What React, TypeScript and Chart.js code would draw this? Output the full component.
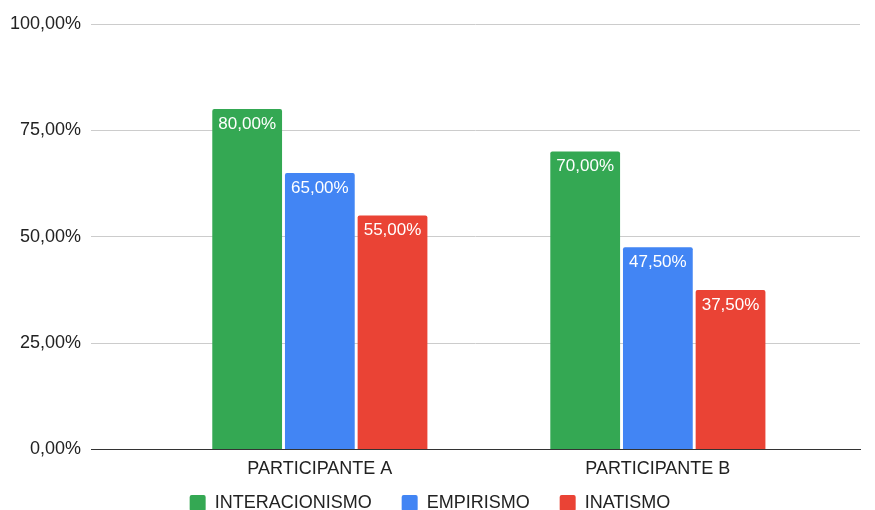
import React, { useEffect, useRef } from "react";
import { Chart, registerables } from "chart.js";

Chart.register(...registerables);

const categories = ["PARTICIPANTE A", "PARTICIPANTE B"];
const seriesNames = ["INTERACIONISMO", "EMPIRISMO", "INATISMO"];
const interacionismo = [80, 70];
const empirismo = [65, 47.5];
const inatismo = [55, 37.5];
const yTicks = [0, 25, 50, 75, 100];
const colors = ["#34a853", "#4285f4", "#ea4335"];

const fmt = (v: number) => v.toFixed(2).replace(".", ",") + "%";

const FONT = "'Liberation Sans', Arial, sans-serif";
const LEGEND_SHIFT = 17;

const labelPlugin = {
  id: "barLabels",
  afterDatasetsDraw(chart: any) {
    const ctx = chart.ctx;
    ctx.save();
    ctx.font = `17px ${FONT}`;
    ctx.fillStyle = "#ffffff";
    ctx.textAlign = "center";
    ctx.textBaseline = "middle";
    chart.data.datasets.forEach((ds: any, di: number) => {
      const meta = chart.getDatasetMeta(di);
      meta.data.forEach((el: any, i: number) => {
        const v = ds.data[i].y;
        ctx.fillText(fmt(v), el.x, el.y + 15);
      });
    });
    ctx.restore();
  },
};

const legendShiftPlugin = {
  id: "legendShift",
  afterLayout(chart: any) {
    const lg = chart.legend;
    if (lg) {
      lg.top -= LEGEND_SHIFT;
      lg.bottom -= LEGEND_SHIFT;
    }
  },
};

export default function App() {
  const ref = useRef<HTMLCanvasElement>(null);
  useEffect(() => {
    const series = [interacionismo, empirismo, inatismo];
    const chart = new Chart(ref.current!, {
      type: "bar",
      data: {
        datasets: series.map((vals, si) => ({
          label: seriesNames[si],
          data: vals.map((v, i) => ({ x: i, y: v })),
          backgroundColor: colors[si],
          borderRadius: { topLeft: 2, topRight: 2 },
          borderSkipped: "bottom",
          categoryPercentage: 0.645,
          barPercentage: 0.96,
        })),
      },
      options: {
        animation: false,
        responsive: false,
        layout: { padding: { top: 24, right: 15, left: 0, bottom: -29 } },
        scales: {
          x: {
            type: "linear",
            offset: false,
            min: -0.677,
            max: 1.598,
            afterBuildTicks: (axis: any) => {
              axis.ticks = categories.map((_, i) => ({ value: i }));
            },
            ticks: {
              callback: (v: any) => categories[v] ?? "",
              color: "#222",
              font: { family: FONT, size: 18 },
              padding: 1,
              maxRotation: 0,
              autoSkip: false,
            },
            grid: { display: false },
            border: { display: true, color: "#333", width: 1 },
          },
          y: {
            min: 0,
            max: 100,
            afterBuildTicks: (axis: any) => {
              axis.ticks = yTicks.map((v) => ({ value: v }));
            },
            afterFit: (axis: any) => {
              axis.width = 91;
            },
            ticks: {
              callback: (v: any) => fmt(Number(v)),
              color: "#222",
              font: { family: FONT, size: 18 },
              padding: 10,
            },
            grid: { color: "#cccccc", drawTicks: false },
            border: { display: false },
          },
        },
        plugins: {
          legend: {
            position: "bottom",
            labels: {
              color: "#222",
              font: { family: FONT, size: 18 },
              boxWidth: 16,
              boxHeight: 16,
              padding: 30,
              useBorderRadius: true,
              borderRadius: 2,
            },
          },
          tooltip: { enabled: false },
        },
      },
      plugins: [labelPlugin, legendShiftPlugin],
    } as any);
    return () => chart.destroy();
  }, []);
  return (
    <div style={{ position: "absolute", left: 0, top: 0, width: 875, height: 510, background: "#fff" }}>
      <canvas ref={ref} width={875} height={510} />
    </div>
  );
}
